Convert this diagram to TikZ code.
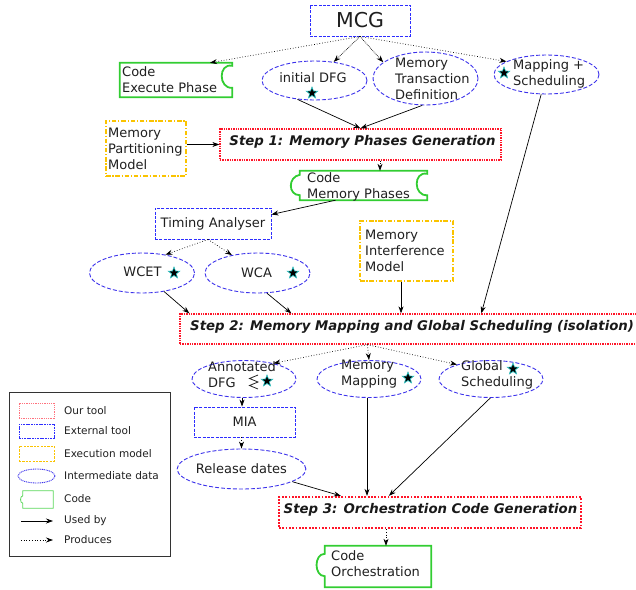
\documentclass[tikz,border=0pt]{standalone}
\usepackage{fontspec}
\setmainfont{DejaVu Sans}[ItalicFont={DejaVu Sans Oblique},BoldFont={DejaVu Sans Bold},BoldItalicFont={DejaVu Sans Bold Oblique}]
\usetikzlibrary{shapes.geometric,arrows.meta,calc}
\definecolor{tred}{RGB}{255,20,40}
\definecolor{tblue}{RGB}{45,45,255}
\definecolor{dblue}{RGB}{60,50,235}
\definecolor{tyel}{RGB}{250,195,0}
\definecolor{tgreen}{RGB}{50,205,50}
\definecolor{tcyan}{RGB}{40,200,200}
\tikzset{
 txt/.style={inner sep=0, align=left, font=\fontsize{13}{16}\selectfont, text=black!88},
 steptxt/.style={inner sep=0, font=\fontsize{13.3}{15}\selectfont\bfseries\itshape, text=black!90},
 legtxt/.style={inner sep=0, anchor=west, font=\fontsize{10.5}{12}\selectfont, text=black!88},
 ourtool/.style={draw=tred, dash pattern=on 1.4pt off 1pt, line width=1.3pt, inner sep=0},
 ext/.style={draw=tblue, dash pattern=on 3pt off 1.3pt, line width=0.9pt, inner sep=0},
 exm/.style={draw=tyel, dash pattern=on 4.5pt off 1.8pt on 1.2pt off 1.8pt, line width=1.05pt, inner sep=0},
 dat/.style={ellipse, draw=dblue, dash pattern=on 4pt off 2pt, line width=0.9pt, inner sep=0},
 codeline/.style={draw=tgreen, line width=1.8pt},
 use/.style={-{Stealth[length=7pt,width=5pt]}, line width=0.7pt},
 prod/.style={use, dotted},
 mystar/.style={star, star points=5, star point ratio=2.4, fill=black, draw=tcyan, line width=0.6pt, minimum size=12pt, inner sep=0},
 hold/.style={inner sep=0, draw=none}
}
\begin{document}
\begin{tikzpicture}[x=1pt,y=-1pt]
\clip (0,0) rectangle (636,589);
% MCG
\node[ext, minimum width=100, minimum height=31, font=\fontsize{20.5}{24}\selectfont, text=black!88] (mcg) at (360,20.5) {MCG};
% Code Execute Phase
\node[hold, minimum width=112, minimum height=34] (cep) at (176,80) {};
\draw[codeline] (cep.north west) -- (cep.north east) -- ++(0,3) .. controls +(-14,-3) and +(-14,1) .. ($(cep.north east)+(0,25)$) -- (cep.south east) -- (cep.south west) -- cycle;
\node[txt, anchor=west] (cept) at (122,80) {Code\\Execute Phase};
% initial DFG
\node[dat, minimum width=105, minimum height=39] (idfg) at (314.5,80.5) {};
\node[txt] (idfgt) at (313,78) {initial DFG};
\node[mystar] (idfgs) at (312,93) {};
% Memory Transaction Definition
\node[dat, minimum width=105, minimum height=53] (mtd) at (425.5,78.5) {};
\node[txt, anchor=west] (mtdt) at (395,78.5) {Memory\\Transaction\\Definition};
% Mapping + Scheduling
\node[dat, minimum width=105, minimum height=39] (map) at (546.5,74.5) {};
\node[txt, anchor=west] (mapt) at (513,74) {Mapping +\\Scheduling};
\node[mystar] (maps) at (504,73) {};
% Memory Partitioning Model
\node[exm, minimum width=80, minimum height=55] (mpm) at (146,148.5) {};
\node[txt, anchor=west] (mpmt) at (108,149) {Memory\\Partitioning\\Model};
% Step 1
\node[ourtool, minimum width=281, minimum height=31] (step1) at (360.5,144.5) {};
\node[steptxt] (step1t) at (362.5,142) {Step 1: Memory Phases Generation};
% Code Memory Phases
\node[hold, minimum width=127, minimum height=29] (cmp) at (363.5,185.5) {};
\draw[codeline] (cmp.north west) -- (cmp.north east) -- ++(0,3) .. controls +(-14,-3) and +(-14,1) .. ($(cmp.south east)+(0,-5)$) -- (cmp.south east) -- (cmp.south west) -- ++(0,-5) .. controls +(-12,0) and +(-12,2) .. ($(cmp.north west)+(0,4)$) -- cycle;
\node[txt, anchor=west] (cmpt) at (307,186.5) {Code\\Memory Phases};
% Timing Analyser
\node[ext, txt, minimum width=116, minimum height=31] (ta) at (213,223.5) {Timing Analyser};
% WCET, WCA
\node[dat, minimum width=105, minimum height=40] (wcet) at (142,273) {};
\node[txt] (wcett) at (142.5,272) {WCET};
\node[mystar] (wcets) at (174,273) {};
\node[dat, minimum width=105, minimum height=40] (wca) at (257.5,273) {};
\node[txt] (wcat) at (256.5,273) {WCA};
\node[mystar] (wcas) at (293,273) {};
% Memory Interference Model
\node[exm, minimum width=93, minimum height=60] (mim) at (406.5,251) {};
\node[txt, anchor=west] (mimt) at (365,251) {Memory\\Interference\\Model};
% Step 2
\node[ourtool, minimum width=470, minimum height=30] (step2) at (415,329) {};
\node[steptxt, anchor=west] (step2t) at (190,327) {Step 2: Memory Mapping and Global Scheduling (isolation)};
% Annotated DFG
\node[dat, minimum width=104, minimum height=37] (annot) at (244,379) {};
\node[txt, anchor=west] (annott) at (208,374.5) {Annotated\\DFG};
\draw[line width=0.8pt, black!85] (258,375) -- (249.5,378.5) -- (258,382) -- (249.5,385.5) -- (258,389);
\node[mystar] (annots) at (267,381) {};
% Memory Mapping
\node[dat, minimum width=104, minimum height=37] (memmap) at (369,379) {};
\node[txt, anchor=west] (memmapt) at (341,374.5) {Memory\\Mapping};
\node[mystar] (memmaps) at (408,378) {};
% Global Scheduling
\node[dat, minimum width=104, minimum height=37] (global) at (491,379) {};
\node[txt, anchor=west] (globalt) at (461,374.5) {Global\\Scheduling};
\node[mystar] (globals) at (513,369) {};
% MIA, Release dates
\node[ext, txt, minimum width=101, minimum height=30] (mia) at (244.5,422) {MIA};
\node[dat, txt, minimum width=105, minimum height=40] (rel) at (241.5,469) {Release dates};
% Step 3
\node[draw=tred, line width=2.3pt, dash pattern=on 1.8pt off 1.5pt, minimum width=302, minimum height=31, inner sep=0] (step3) at (430,512.5) {};
\node[steptxt] (step3t) at (430.5,510) {Step 3: Orchestration Code Generation};
% Code Orchestration
\node[hold, minimum width=106, minimum height=41] (co) at (378,566.5) {};
\draw[codeline] (co.north west) -- (co.north east) -- (co.south east) -- (co.south west) -- ++(0,-11) .. controls +(-11,0) and +(-11,0) .. ($(co.north west)+(0,8)$) -- cycle;
\node[txt, anchor=west] (cot) at (331,564) {Code\\Orchestration};
% Connectors
\draw[prod] (mcg.south) -- ($(cep.north)+(34,0)$);
\draw[prod, densely dotted] (mcg.south) -- (idfg);
\draw[prod, densely dotted] (mcg.south) -- (mtd.159);
\draw[prod] (mcg.south) -- (map.162);
\draw[use] (idfg.228) -- (step1.north);
\draw[use] (mtd.263) -- (step1.north);
\draw[use] (mpm.east |- step1.west) -- (step1.west);
\draw[prod] ($(step1.south)+(19.5,0)$) -- ($(cmp.north)+(16.5,0)$);
\draw[use] ($(cmp.south)+(-28,0)$) -- ($(ta.east)+(0,-9)$);
\draw[prod] ($(ta.south)+(-5,0)$) -- (wcet.38);
\draw[prod] ($(ta.south)+(-5,0)$) -- (wca.145);
\draw[use] (wcet.-40) -- ($(step2.north west)+(10,0)$);
\draw[use] (wca.-65) -- ($(step2.north west)+(112,0)$);
\coordinate (mimo) at ($(mim.south)+(-5.5,0)$);
\draw[use] (mimo) -- (mimo |- step2.north);
\draw[use] (map.-105) -- ($(step2.north west)+(302,0)$);
\coordinate (s2b) at ($(step2.south west)+(188,0)$);
\draw[prod] (s2b) -- (annot.28);
\draw[prod] (s2b) -- (memmap.north);
\draw[prod] (s2b) -- (global.157);
\draw[use] (annot.264) -- (annot.264 |- mia.north);
\draw[prod] (rel.north |- mia.south) -- (rel.north);
\draw[use] (rel.-14) -- ($(step3.north west)+(63,0)$);
\draw[use] (memmap.264) -- (memmap.264 |- step3.north);
\draw[use] (global.-92) -- ($(step3.north west)+(111,0)$);
\coordinate (coin) at ($(co.north)+(8,0)$);
\draw[prod] (coin |- step3.south) -- (coin);
% Legend
\node[draw=black!80, line width=0.8pt, minimum width=161, minimum height=164, inner sep=0] (leg) at (89.5,474) {};
\node[draw=tred!60, dash pattern=on 1pt off 0.8pt, line width=0.9pt, minimum width=35, minimum height=15, inner sep=0] (l1) at (36.5,410.5) {};
\node[legtxt] (l1t) at (64,410.5) {Our tool};
\node[draw=tblue, dash pattern=on 1.8pt off 0.8pt, line width=0.9pt, minimum width=35, minimum height=14, inner sep=0] (l2) at (36.5,431) {};
\node[legtxt] (l2t) at (64,431) {External tool};
\node[draw=tyel, dash pattern=on 2.2pt off 1.2pt, line width=0.8pt, minimum width=35, minimum height=15, inner sep=0] (l3) at (36.5,453.5) {};
\node[legtxt] (l3t) at (64,453.5) {Execution model};
\node[ellipse, draw=dblue, dash pattern=on 1pt off 0.8pt, line width=0.9pt, minimum width=37, minimum height=14, inner sep=0] (l4) at (36.5,476) {};
\node[legtxt] (l4t) at (64,476) {Intermediate data};
\node[hold, minimum width=30, minimum height=17] (l5) at (38,499.5) {};
\draw[draw=tgreen!80, line width=0.8pt] (l5.north west) -- (l5.north east) -- (l5.south east) -- (l5.south west) -- ++(0,-5) .. controls +(-3,0) and +(-3,0) .. ($(l5.north west)+(0,5)$) -- cycle;
\node[legtxt] (l5t) at (64,499) {Code};
\coordinate (u1) at (21,521);
\coordinate (u2) at (53,521);
\draw[use] (u1) -- (u2);
\node[legtxt] (l6t) at (64,521) {Used by};
\coordinate (p1) at (21,540);
\coordinate (p2) at (53,540);
\draw[prod] (p1) -- (p2);
\node[legtxt] (l7t) at (64,540) {Produces};
\end{tikzpicture}
\end{document}
